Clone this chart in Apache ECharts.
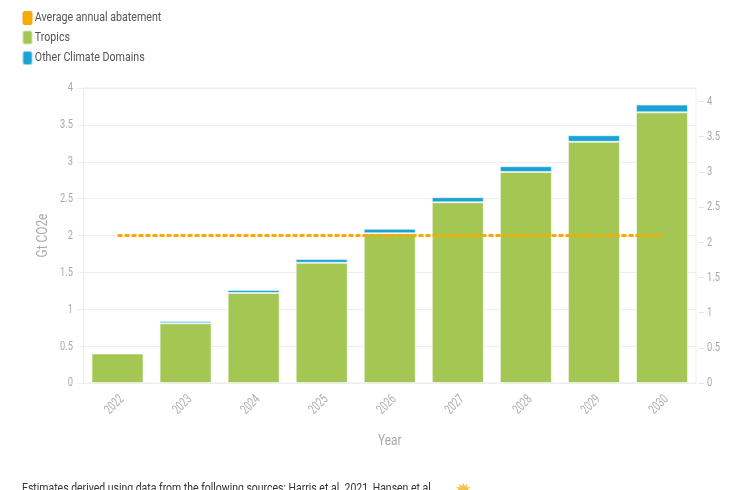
<!DOCTYPE html>
<html><head><meta charset="utf-8">
<style>html,body{margin:0;padding:0;background:#fff;overflow:hidden}#c{width:733px;height:490px}</style>
<script src="https://cdn.jsdelivr.net/npm/echarts@6/dist/echarts.min.js"></script>
</head><body><div id="c"></div>
<script>
const years=['2022','2023','2024','2025','2026','2027','2028','2029','2030'];
const tropics=[0.40,0.81,1.22,1.63,2.03,2.45,2.86,3.27,3.67];
const otherDomains=[0.01,0.03,0.04,0.05,0.06,0.07,0.08,0.09,0.105];
const averageAbatement=[2.095,2.095,2.095,2.095,2.095,2.095,2.095,2.095,2.095];
const rightTicks=[0,0.5,1,1.5,2,2.5,3,3.5,4];
const footerText='Estimates derived using data from the following sources: Harris et al. 2021, Hansen et al.';
const F='Roboto';
const chart=echarts.init(document.getElementById('c'),null,{renderer:'canvas'});
const barBorder='rgba(255,255,255,0.55)';
chart.setOption({
  animation:false,
  textStyle:{fontFamily:F},
  grid:{left:83.5,right:37,top:88,bottom:107,show:true,borderColor:'#eeeeee',borderWidth:1},
  legend:{
    orient:'vertical',left:16.5,top:6,itemWidth:10,itemHeight:14,itemGap:4.5,
    icon:'roundRect',selectedMode:false,
    textStyle:{fontFamily:F,fontSize:13,color:'#555',padding:[0,0,0,0]},
    data:['Average annual abatement','Tropics','Other Climate Domains']
  },
  xAxis:{
    type:'category',data:years,name:'Year',nameLocation:'middle',nameGap:51,
    nameTextStyle:{color:'#aaa',fontSize:14.5,fontFamily:F},
    axisLine:{lineStyle:{color:'#eeeeee'}},
    axisTick:{alignWithLabel:true,length:7,lineStyle:{color:'#eeeeee'}},
    axisLabel:{rotate:45,color:'#b0b0b0',fontSize:13.5,margin:14.5,fontFamily:F,interval:0},
    splitLine:{show:false}
  },
  yAxis:[
    {type:'value',min:0,max:4,interval:0.5,name:'Gt CO2e',nameLocation:'middle',nameGap:33,nameMoveOverlap:false,
     nameTextStyle:{color:'#aaa',fontSize:14.5,fontFamily:F},
     axisLine:{show:false},
     axisTick:{show:true,length:6,lineStyle:{color:'#eeeeee'}},
     axisLabel:{color:'#aaa',fontSize:13.5,margin:10.5,fontFamily:F},
     splitLine:{show:true,lineStyle:{color:'#eeeeee'}}},
    {type:'value',min:0,max:4.19,position:'right',offset:3,
     axisLine:{show:false},
     axisTick:{show:true,length:5,customValues:rightTicks,lineStyle:{color:'#e6e6e6'}},
     axisLabel:{color:'#aaa',fontSize:13.5,margin:8,fontFamily:F,customValues:rightTicks},
     splitLine:{show:false}}
  ],
  series:[
    {name:'Average annual abatement',type:'line',yAxisIndex:1,data:averageAbatement,z:5,
     symbol:'none',itemStyle:{color:'#F5AB00'},
     lineStyle:{color:'#F5AB00',width:3,type:[5,2]}},
    {name:'Tropics',type:'bar',stack:'a',yAxisIndex:0,data:tropics,barWidth:52,
     itemStyle:{color:'#A4C653',borderColor:barBorder,borderWidth:1}},
    {name:'Other Climate Domains',type:'bar',stack:'a',yAxisIndex:0,data:otherDomains,barWidth:52,
     itemStyle:{color:'#1BA3D6',borderColor:barBorder,borderWidth:1}}
  ],
  graphic:[
    {type:'text',left:22,top:482,style:{text:footerText,font:'13.5px '+F,fill:'#333'}},
    {type:'text',left:454,top:482,style:{text:'\u2739',font:'22px "DejaVu Sans"',fill:'#F5C24A'}}
  ]
});
// The reference uses a condensed face; narrow the installed font's text horizontally.
chart.getZr().storage.getRoots().forEach(r=>r.traverse(el=>{
  if(el.type!=='text'||!el.style) return;
  const t=String(el.style.text);
  if(t==='\u2739') return;
  if(t===footerText) el.scaleX=0.775;
  else if(/^[\d.]+$/.test(t)){
    el.scaleX=0.69;
    if(years.includes(t)) el.x+=4.5;
  } else el.scaleX=0.82;
  el.markRedraw();
}));
chart.getZr().refreshImmediately();
</script></body></html>
